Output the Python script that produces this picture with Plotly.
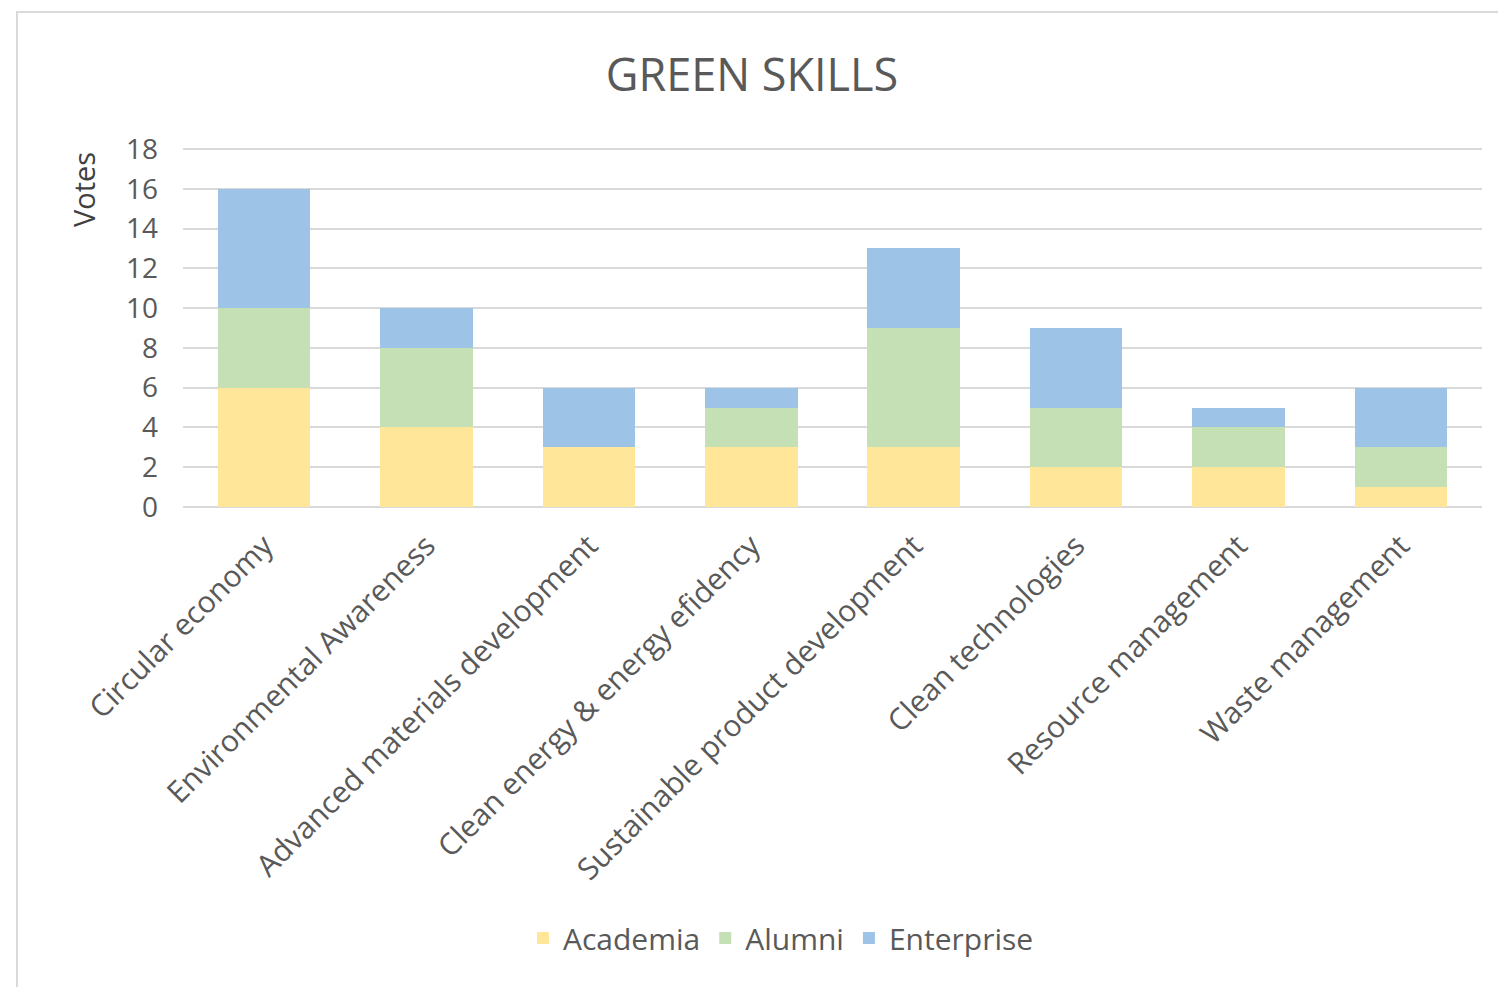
import plotly.graph_objects as go

categories = ["Circular economy", "Environmental Awareness", "Advanced materials development",
              "Clean energy & energy efidency", "Sustainable product development",
              "Clean technologies", "Resource management", "Waste management"]
academia = [6, 4, 3, 3, 3, 2, 2, 1]
alumni = [4, 4, 0, 2, 6, 3, 2, 2]
enterprise = [6, 2, 3, 1, 4, 4, 1, 3]
y_ticks = [0, 2, 4, 6, 8, 10, 12, 14, 16, 18]

colors = {"Academia": "#FFE699", "Alumni": "#C5E0B4", "Enterprise": "#9DC3E6"}
font_family = "Open Sans, Noto Sans, sans-serif"

fig = go.Figure()
for name, vals in [("Academia", academia), ("Alumni", alumni), ("Enterprise", enterprise)]:
    fig.add_trace(go.Bar(x=categories, y=vals, name=name, marker_color=colors[name],
                         marker_line_width=0))

OFF = 8  # page body margin
W, H = 1506 - OFF, 987 - OFF
# target pixel positions in the reference screenshot
REF_L, REF_R, REF_T, REF_B = 183, 1482, 143, 507
L = REF_L - OFF
T = REF_T - OFF
R = W - (REF_R - OFF)
B = H - (REF_B - OFF)
pw, ph = W - L - R, H - T - B

def px_x(x):
    return (x - OFF - L) / pw

def px_y(y):
    return (H - B - (y - OFF)) / ph

fig.add_shape(type="rect", xref="paper", yref="paper",
              x0=px_x(17), x1=px_x(1530), y0=px_y(1010), y1=px_y(12),
              line=dict(color="#d9d9d9", width=2), fillcolor="rgba(0,0,0,0)", layer="below")

fig.update_layout(
    width=W, height=H,
    margin=dict(l=L, r=R, t=T, b=B, autoexpand=False),
    barmode="stack", bargap=0.43,
    paper_bgcolor="white", plot_bgcolor="white",
    font=dict(family=font_family, color="#595959"),
    title=dict(text="GREEN SKILLS", x=(752 - OFF) / W, xanchor="center",
               y=1 - (75 - OFF) / H, yanchor="middle",
               font=dict(size=45, color="#595959", family=font_family)),
    showlegend=True,
    legend=dict(orientation="h", x=(781 - OFF) / W, xanchor="center", xref="container",
                y=1 - (938 - OFF) / H, yref="container", yanchor="middle",
                font=dict(size=30, color="#595959"), itemwidth=30, traceorder="normal"),
    xaxis=dict(tickangle=-45, tickfont=dict(size=30, color="#595959"), showgrid=False,
               showline=False, ticks="", ticklabelstandoff=14),
    yaxis=dict(range=[0, 18.3], tickvals=y_ticks, tickfont=dict(size=28, color="#595959"),
               gridcolor="#d9d9d9", gridwidth=2, zeroline=True, zerolinecolor="#d9d9d9",
               zerolinewidth=2, showline=False, ticks="", ticklabelstandoff=24),
    annotations=[dict(text="Votes", x=px_x(83), y=px_y(190), xref="paper", yref="paper",
                      xanchor="center", yanchor="middle",
                      textangle=-90, showarrow=False, font=dict(size=29, color="#404040"))],
)

fig.write_html("out.html")
